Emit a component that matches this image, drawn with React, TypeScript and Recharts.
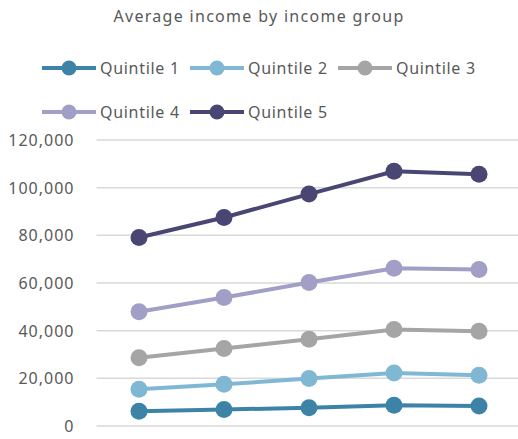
import React from 'react';
import { LineChart, Line, XAxis, YAxis, CartesianGrid } from 'recharts';

const periods = ['P1', 'P2', 'P3', 'P4', 'P5'];
const quintile1 = [6200, 6900, 7700, 8700, 8400];
const quintile2 = [15400, 17500, 19900, 22200, 21300];
const quintile3 = [28600, 32500, 36400, 40500, 39800];
const quintile4 = [47900, 53900, 60200, 66200, 65700];
const quintile5 = [79100, 87500, 97300, 106900, 105600];
const yTicks = [0, 20000, 40000, 60000, 80000, 100000, 120000];

const SERIES = [
  { key: 'q1', name: 'Quintile 1', color: '#3d83a8', values: quintile1 },
  { key: 'q2', name: 'Quintile 2', color: '#80b8d4', values: quintile2 },
  { key: 'q3', name: 'Quintile 3', color: '#a5a5a5', values: quintile3 },
  { key: 'q4', name: 'Quintile 4', color: '#a29fc6', values: quintile4 },
  { key: 'q5', name: 'Quintile 5', color: '#4a4673', values: quintile5 },
];

const data = periods.map((p, i) => {
  const row: Record<string, string | number> = { period: p };
  SERIES.forEach((s) => {
    row[s.key] = s.values[i];
  });
  return row;
});

const TEXT = '#595959';
const FONT = '"Noto Sans", sans-serif';

const YTick = (props: any) => {
  const { x, y, payload } = props;
  return (
    <text
      x={x - 14}
      y={y}
      dy={6}
      textAnchor="end"
      fill={TEXT}
      fontSize={16}
      fontFamily={FONT}
      letterSpacing={1}
    >
      {payload.value.toLocaleString('en-US')}
    </text>
  );
};

// legend drawn outside the chart so it doesn't eat plot height
const ChartLegend = () => (
  <div
    style={{
      position: 'absolute',
      top: 57,
      left: 42,
      display: 'flex',
      flexWrap: 'wrap',
      width: 460,
      rowGap: 22,
    }}
  >
    {SERIES.map((s) => (
      <div key={s.key} style={{ display: 'flex', alignItems: 'center', width: 148, height: 22 }}>
        <svg width={54} height={18} style={{ flex: 'none' }}>
          <line x1={0} y1={9} x2={54} y2={9} stroke={s.color} strokeWidth={4} />
          <circle cx={27} cy={9} r={7.5} fill={s.color} />
        </svg>
        <span
          style={{
            marginLeft: 4,
            fontFamily: FONT,
            fontSize: 16,
            letterSpacing: 0.7,
            color: TEXT,
            whiteSpace: 'nowrap',
          }}
        >
          {s.name}
        </span>
      </div>
    ))}
  </div>
);

export default function App() {
  return (
    <div style={{ position: 'absolute', left: 0, top: 0, width: 518, height: 439, background: '#fff', overflow: 'hidden' }}>
      <div
        style={{
          position: 'absolute',
          top: 5,
          left: 0,
          width: 518,
          textAlign: 'center',
          fontFamily: FONT,
          fontSize: 16,
          letterSpacing: 1.3,
          color: TEXT,
        }}
      >
        Average income by income group
      </div>
      <ChartLegend />
      <LineChart
        width={518}
        height={439}
        data={data}
        margin={{ top: 140, right: -3.5, bottom: 13, left: 0 }}
        style={{ position: 'absolute', top: 0, left: 0 }}
      >
        <CartesianGrid horizontal vertical={false} stroke="#d9d9d9" strokeWidth={1.5} />
        <XAxis dataKey="period" hide padding={{ left: 42.5, right: 42.5 }} />
        <YAxis
          width={96.5}
          domain={[0, 120000]}
          ticks={yTicks}
          axisLine={false}
          tickLine={false}
          tick={<YTick />}
        />
        {SERIES.map((s) => (
          <Line
            key={s.key}
            dataKey={s.key}
            name={s.name}
            stroke={s.color}
            strokeWidth={4}
            dot={{ r: 8.5, fill: s.color, stroke: 'none' }}
            activeDot={false}
            isAnimationActive={false}
          />
        ))}
      </LineChart>
    </div>
  );
}
